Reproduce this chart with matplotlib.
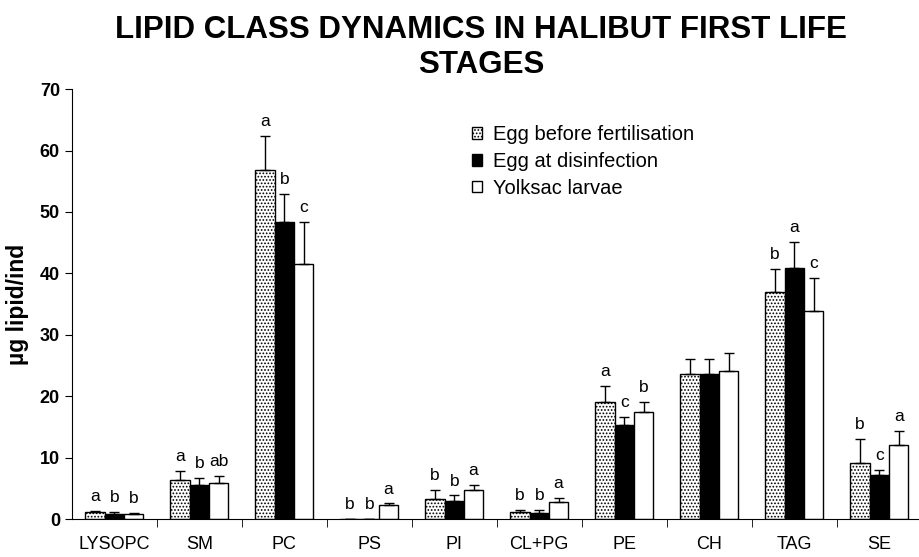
import matplotlib.pyplot as plt
import numpy as np

plt.rcParams['font.family'] = ['Liberation Sans', 'DejaVu Sans']
plt.rcParams['hatch.linewidth'] = 0.8

classes = ['LYSOPC', 'SM', 'PC', 'PS', 'PI', 'CL+PG', 'PE', 'CH', 'TAG', 'SE']
stages = ['Egg before fertilisation', 'Egg at disinfection', 'Yolksac larvae']

# mean ug lipid per individual
egg_before = [1.1, 6.4, 56.8, 0.0, 3.3, 1.1, 19.1, 23.7, 37.0, 9.1]
egg_disinf = [0.8, 5.5, 48.3, 0.0, 3.0, 1.0, 15.3, 23.7, 40.9, 7.2]
yolksac = [0.8, 5.9, 41.6, 2.3, 4.7, 2.8, 17.5, 24.1, 33.9, 12.1]

# standard deviations (upper bars only)
sd_before = [0.3, 1.5, 5.6, 0.0, 1.4, 0.45, 2.6, 2.3, 3.7, 4.0]
sd_disinf = [0.3, 1.2, 4.6, 0.0, 0.85, 0.5, 1.4, 2.3, 4.2, 0.8]
sd_yolksac = [0.2, 1.1, 6.8, 0.25, 0.9, 0.6, 1.5, 2.9, 5.3, 2.2]

# significance letters
let_before = ['a', 'a', 'a', 'b', 'b', 'b', 'a', '', 'b', 'b']
let_disinf = ['b', 'b', 'b', 'b', 'b', 'b', 'c', '', 'a', 'c']
let_yolksac = ['b', 'ab', 'c', 'a', 'a', 'a', 'b', '', 'c', 'a']

fig = plt.figure(figsize=(9.2, 5.57), dpi=100)
ax = fig.add_axes([0.078, 0.068, 0.924, 0.772])

x = np.arange(len(classes))
w = 0.227
series = [
    (egg_before, sd_before, let_before, dict(facecolor='white', hatch='.....')),
    (egg_disinf, sd_disinf, let_disinf, dict(facecolor='black')),
    (yolksac, sd_yolksac, let_yolksac, dict(facecolor='white')),
]

for i, (vals, sds, lets, style) in enumerate(series):
    pos = x + (i - 1) * w
    ax.bar(pos, vals, w, edgecolor='black', linewidth=1.0, label=stages[i], zorder=2, **style)
    ax.errorbar(pos, vals, yerr=[np.zeros(len(vals)), sds], fmt='none', ecolor='black',
                elinewidth=1.0, capsize=3.5, capthick=1.0, zorder=3)
    for p, v, s, t in zip(pos, vals, sds, lets):
        if t:
            ax.annotate(t, (p, v + s), xytext=(0, 5), textcoords='offset points',
                        ha='center', va='bottom', fontsize=12.5)

ax.set_xlim(-0.5, len(classes) - 0.5)
ax.set_ylim(0, 70)
ax.set_yticks(np.arange(0, 71, 10))
ax.set_xticks(x)
ax.set_xticklabels(classes, fontsize=13)
ax.set_xticks(x[:-1] + 0.5, minor=True)
ax.tick_params(axis='x', which='major', length=0, pad=12)
ax.tick_params(axis='x', which='minor', length=6, direction='out')
ax.tick_params(axis='y', labelsize=13, length=5, direction='out')
for lbl in ax.get_yticklabels():
    lbl.set_fontweight('bold')
ax.spines['top'].set_visible(False)
ax.spines['right'].set_visible(False)

ax.set_ylabel('\u00b5g lipid/ind', fontsize=16.5, fontweight='bold', labelpad=8)

ax.legend(loc='upper left', bbox_to_anchor=(0.45, 0.958), frameon=False, fontsize=14.5,
          handlelength=0.5, handleheight=0.5, handletextpad=0.5, labelspacing=0.38)

fig.text(0.523, 0.973, 'LIPID CLASS DYNAMICS IN HALIBUT FIRST LIFE\nSTAGES',
         ha='center', va='top', fontsize=22.5, fontweight='bold', linespacing=1.2)

fig.savefig('out.png', dpi=100)
